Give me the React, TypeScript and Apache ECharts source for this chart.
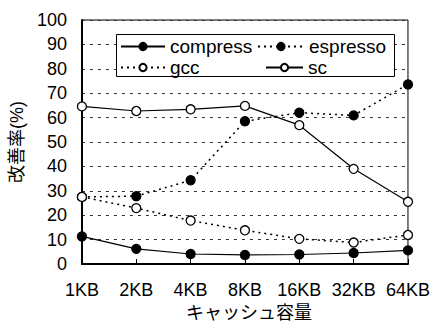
import React, { useEffect, useRef } from "react";
import * as echarts from "echarts";

const categories = ["1KB", "2KB", "4KB", "8KB", "16KB", "32KB", "64KB"];
const compress = [11.3, 6.2, 4.1, 3.7, 3.9, 4.5, 5.6];
const espresso = [27.5, 27.8, 34.3, 58.5, 62.0, 60.9, 73.6];
const gcc = [27.5, 22.9, 17.8, 13.8, 10.3, 8.8, 11.9];
const sc = [64.6, 62.7, 63.4, 64.8, 56.9, 39.0, 25.5];

const FONT = "'Liberation Sans', 'Noto Sans CJK JP', Arial, sans-serif";

export default function App() {
  const ref = useRef<HTMLDivElement>(null);
  useEffect(() => {
    const chart = echarts.init(ref.current!, null, { renderer: "svg" });
    const mk = (name: string, data: number[], dotted: boolean, filled: boolean) => ({
      name,
      type: "line",
      data,
      symbol: "circle",
      symbolSize: 9,
      showSymbol: true,
      lineStyle: { color: "#000", width: dotted ? 1.5 : 1.2, type: dotted ? [2, 4] : "solid" },
      itemStyle: { color: filled ? "#000" : "#fff", borderColor: "#000", borderWidth: 1.3 },
      z: 5,
    });
    const legendCommon = {
      itemHeight: 9,
      textStyle: { fontFamily: FONT, fontSize: 19, color: "#000", lineHeight: 19 },
      itemGap: 4,
      padding: 0,
    };
    chart.setOption({
      animation: false,
      grid: { left: 78, right: 24, top: 20, bottom: 61, show: true, borderColor: "#000", borderWidth: 1, backgroundColor: "transparent" },
      legend: [
        { ...legendCommon, data: ["compress"], left: 120, top: 37, itemWidth: 44 },
        { ...legendCommon, data: ["espresso"], left: 257, top: 37, itemWidth: 46 },
        { ...legendCommon, data: ["gcc"], left: 120, top: 58, itemWidth: 44 },
        { ...legendCommon, data: ["sc"], left: 265, top: 58, itemWidth: 37 },
      ],
      graphic: [
        {
          type: "rect",
          shape: { x: 116.5, y: 34.5, width: 278, height: 42 },
          style: { fill: "#fff", stroke: "#000", lineWidth: 1 },
          z: 1,
        },
      ],
      xAxis: {
        type: "category",
        data: categories,
        boundaryGap: false,
        axisLine: { lineStyle: { color: "#000", width: 2 } },
        axisTick: { inside: true, length: 5, alignWithLabel: true, interval: 0, lineStyle: { color: "#000" } },
        axisLabel: { fontFamily: FONT, fontSize: 18, color: "#000", margin: 17, interval: 0, hideOverlap: false },
        name: "キャッシュ容量",
        nameLocation: "middle",
        nameGap: 40,
        nameTextStyle: { fontFamily: FONT, fontSize: 18, color: "#000", padding: [0, 0, 0, 8] },
      },
      yAxis: {
        type: "value",
        min: 0,
        max: 100,
        interval: 10,
        axisLine: { show: true, lineStyle: { color: "#000", width: 2 } },
        axisTick: { show: false },
        axisLabel: { fontFamily: FONT, fontSize: 18, color: "#000", margin: 15 },
        splitLine: { show: true, lineStyle: { color: "#333", type: [3, 5], width: 1 } },
        name: "改善率(%)",
        nameLocation: "middle",
        nameGap: 53,
        nameTextStyle: { fontFamily: FONT, fontSize: 18, color: "#000" },
      },
      series: [
        mk("compress", compress, false, true),
        mk("espresso", espresso, true, true),
        mk("gcc", gcc, true, false),
        mk("sc", sc, false, false),
      ],
    });
    return () => chart.dispose();
  }, []);
  return <div ref={ref} style={{ width: 433, height: 327, position: "absolute", left: 0, top: 0, background: "#fff" }} />;
}
